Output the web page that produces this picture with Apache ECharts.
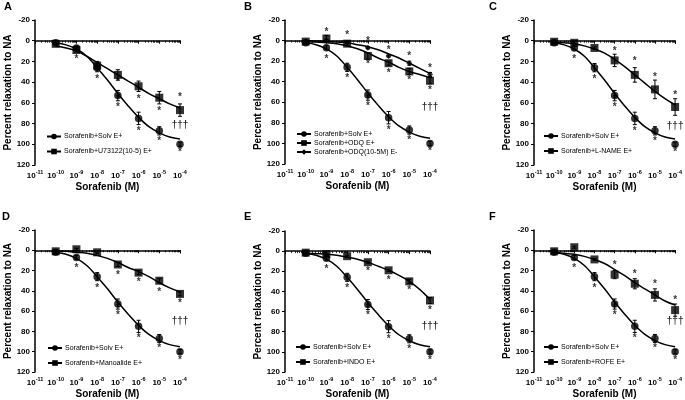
<!DOCTYPE html>
<html><head><meta charset="utf-8">
<script src="https://cdn.jsdelivr.net/npm/echarts@6/dist/echarts.min.js"></script>
<style>html,body{margin:0;padding:0;background:#fff}#c{width:685px;height:400px}</style>
</head><body><div id="c"></div><script>
// ---------- data ----------
const concentrations = [1e-10, 1e-9, 1e-8, 1e-7, 1e-6, 1e-5, 1e-4];
const fitX = [1e-10, 3.16e-10, 1e-9, 3.16e-9, 1e-8, 3.16e-8, 1e-7, 3.16e-7, 1e-6, 3.16e-6, 1e-5, 3.16e-5, 1e-4];
const panelLetters = ['A', 'B', 'C', 'D', 'E', 'F'];
const yTitle = 'Percent relaxation to NA';
const xTitle = 'Sorafenib (M)';

const solvName = 'Sorafenib+Solv E+';
const solvMean = [2, 7, 26, 53, 75, 87, 100];
const solvSem = [1, 2, 4, 5, 6, 4, 2];
const solvFit = [2, 4, 8, 15, 26, 38, 51, 63, 74, 83, 89, 93, 95];
const solvStars = [[1e-9, 16], [1e-8, 35], [1e-7, 55], [1e-7, 62], [1e-6, 85], [1e-5, 95], [1e-4, 106]];

const u73Name = 'Sorafenib+U73122(10-5) E+';
const u73Mean = [3, 9, 24, 33, 44, 55, 67];
const u73Sem = [1, 2, 4, 5, 5, 6, 6];
const u73Fit = [5, 7, 10, 15, 21, 27, 33, 39, 45, 51, 56, 61, 65];
const starsA = [[1e-7, 38], [1e-6, 55], [1e-5, 66], [1e-4, 53]];
const daggerA = [[1e-4, 82]];

const odqName = 'Sorafenib+ODQ E+';
const odqMean = [1, -2, 3, 15, 22, 30, 39];
const odqSem = [1, 3, 2, 3, 2, 3, 3];
const odqFit = [1, 1.5, 2, 3, 5, 8, 12, 17, 21, 26, 30, 33, 36];
const odqEName = 'Sorafenib+ODQ(10-5M) E-';
const odqEMean = [1, 0, 2, 7, 15, 22, 33];
const odqESem = [1, 1, 1, 1, 1, 2, 2];
const odqEFit = [0, 0.5, 1, 1.5, 2, 4, 6, 9, 13, 17, 22, 27, 32];
const starsB = [[1e-9, -10], [1e-8, -7], [1e-7, -1.5], [1e-6, 7.5], [1e-5, 13], [1e-4, 25], [1e-7, 21.5], [1e-6, 30], [1e-5, 37], [1e-4, 46]];
const daggerB = [[1e-4, 65]];

const lnameName = 'Sorafenib+L-NAME E+';
const lnameMean = [1, 2, 7, 19, 33, 47, 64];
const lnameSem = [1, 1, 1, 6, 7, 9, 8];
const lnameFit = [1, 2, 3, 5, 8, 12, 18, 25, 33, 41, 49, 56, 62];
const starsC = [[1e-7, 8.5], [1e-6, 18], [1e-5, 33], [1e-4, 50.5]];
const daggerC = [[1e-4, 83]];

const manoName = 'Sorafenib+Manoalide E+';
const manoMean = [1, -1, 2, 14, 22, 30, 43];
const manoSem = [1, 1, 1, 2, 2, 2, 2];
const manoFit = [1, 1, 2, 3, 5, 8, 12, 17, 21, 26, 32, 37, 41];
const starsD = [[1e-7, 22.7], [1e-6, 30], [1e-5, 39], [1e-4, 50.5]];
const daggerD = [[1e-4, 69.6]];

const indoName = 'Sorafenib+INDO E+';
const indoMean = [1.5, 3, 5, 11, 19, 30, 49];
const indoSem = [1, 1, 1, 1, 1, 2, 3];
const indoFit = [2, 2.5, 3, 4, 6, 8, 11, 15, 19, 24, 30, 38, 48];
const starsE = [[1e-7, 18.3], [1e-6, 27], [1e-5, 37], [1e-4, 56.7]];
const daggerE = [[1e-4, 74.5]];

const rofeName = 'Sorafenib+ROFE E+';
const rofeMean = [1, -3, 9, 24, 33, 44, 59];
const rofeSem = [1, 1, 1, 4, 5, 6, 6];
const rofeFit = [2, 3, 4, 6, 9, 13, 19, 25, 32, 38, 44, 50, 54];
const starsF = [[1e-7, 13], [1e-6, 21.4], [1e-5, 31.7], [1e-4, 47]];
const daggerF = [[1e-4, 69.6]];

// ---------- layout / style ----------
const FONT = '"Liberation Sans", Arial, sans-serif';
const solvGroup = {name: solvName, mean: solvMean, sem: solvSem, fit: solvFit, symbol: 'circle', size: 7.5};
const panels = [
  {grid: {left: 35, top: 20, width: 145, height: 145}, title: {left: 4, top: 1},
   groups: [solvGroup, {name: u73Name, mean: u73Mean, sem: u73Sem, fit: u73Fit, symbol: 'rect', size: 8}],
   stars: solvStars.concat(starsA), daggers: daggerA, legend: {left: 46, top: 133, gap: 8}},
  {grid: {left: 285, top: 20, width: 145, height: 144}, title: {left: 244, top: 1},
   groups: [solvGroup, {name: odqName, mean: odqMean, sem: odqSem, fit: odqFit, symbol: 'rect', size: 8},
            {name: odqEName, mean: odqEMean, sem: odqESem, fit: odqEFit, symbol: 'diamond', size: 6}],
   stars: solvStars.concat(starsB), daggers: daggerB, legend: {left: 296, top: 130.5, gap: 2}},
  {grid: {left: 534, top: 20, width: 144, height: 145}, title: {left: 489, top: 1},
   groups: [solvGroup, {name: lnameName, mean: lnameMean, sem: lnameSem, fit: lnameFit, symbol: 'rect', size: 8}],
   stars: solvStars.concat(starsC), daggers: daggerC, legend: {left: 543, top: 132.5, gap: 8}},
  {grid: {left: 35, top: 230, width: 145, height: 144}, title: {left: 2, top: 211},
   groups: [solvGroup, {name: manoName, mean: manoMean, sem: manoSem, fit: manoFit, symbol: 'rect', size: 8}],
   stars: solvStars.concat(starsD), daggers: daggerD, legend: {left: 47, top: 344.5, gap: 8}},
  {grid: {left: 285, top: 231, width: 145, height: 143}, title: {left: 244, top: 211},
   groups: [solvGroup, {name: indoName, mean: indoMean, sem: indoSem, fit: indoFit, symbol: 'rect', size: 8}],
   stars: solvStars.concat(starsE), daggers: daggerE, legend: {left: 295, top: 343.5, gap: 8}},
  {grid: {left: 534, top: 230, width: 144, height: 144}, title: {left: 489, top: 211},
   groups: [solvGroup, {name: rofeName, mean: rofeMean, sem: rofeSem, fit: rofeFit, symbol: 'rect', size: 8}],
   stars: solvStars.concat(starsF), daggers: daggerF, legend: {left: 543, top: 343.5, gap: 8}}
];

const grids = [], xAxes = [], yAxes = [], series = [], titles = [], legends = [];

function errRender(params, api) {
  const x = api.value(0), y = api.value(1), e = api.value(2);
  const p1 = api.coord([x, y - e]), p2 = api.coord([x, y + e]);
  const w = 2;
  const st = {stroke: '#000', lineWidth: 1};
  return {type: 'group', children: [
    {type: 'line', shape: {x1: p1[0], y1: p1[1], x2: p2[0], y2: p2[1]}, style: st},
    {type: 'line', shape: {x1: p1[0] - w, y1: p1[1], x2: p1[0] + w, y2: p1[1]}, style: st},
    {type: 'line', shape: {x1: p2[0] - w, y1: p2[1], x2: p2[0] + w, y2: p2[1]}, style: st}
  ]};
}

panels.forEach((p, i) => {
  grids.push(Object.assign({containLabel: false}, p.grid));
  titles.push({text: panelLetters[i], left: p.title.left, top: p.title.top, padding: 0,
    textStyle: {fontSize: 11, fontWeight: 'bold', color: '#000', fontFamily: FONT}});
  xAxes.push({
    type: 'log', logBase: 10, gridIndex: i, min: 1e-11, max: 1e-4, splitNumber: 7,
    name: xTitle, nameLocation: 'middle', nameGap: 17,
    nameTextStyle: {fontSize: 10, fontWeight: 'bold', color: '#000', fontFamily: FONT},
    axisLine: {lineStyle: {color: '#000', width: 1.5}},
    axisTick: {show: true, length: 3, lineStyle: {color: '#000', width: 1}},
    minorTick: {show: true, splitNumber: 9, length: 2, lineStyle: {color: '#000', width: 0.8}},
    splitLine: {show: false},
    axisLabel: {
      margin: 4, color: '#000',
      formatter: v => '{b|10}{s|' + Math.round(Math.log10(v)) + '}',
      rich: {
        b: {fontSize: 8, fontWeight: 'bold', fontFamily: FONT, color: '#000', lineHeight: 11, verticalAlign: 'bottom'},
        s: {fontSize: 5.5, fontWeight: 'bold', fontFamily: FONT, color: '#000', lineHeight: 11, verticalAlign: 'top'}
      }
    }
  });
  yAxes.push({
    type: 'value', gridIndex: i, min: -20, max: 120, interval: 20, inverse: true,
    name: yTitle, nameLocation: 'middle', nameGap: 22,
    nameTextStyle: {fontSize: 10, fontWeight: 'bold', color: '#000', fontFamily: FONT},
    axisLine: {show: true, lineStyle: {color: '#000', width: 1.5}},
    axisTick: {show: true, length: 3, lineStyle: {color: '#000', width: 1}},
    splitLine: {show: false},
    axisLabel: {margin: 5, fontSize: 8, fontWeight: 'bold', color: '#000', fontFamily: FONT}
  });
  p.groups.forEach(g => {
    series.push({
      name: g.name, type: 'line', xAxisIndex: i, yAxisIndex: i, smooth: 0.35,
      data: fitX.map((x, k) => [x, g.fit[k]]),
      symbol: g.symbol, symbolSize: g.size, showSymbol: false,
      lineStyle: {color: '#000', width: 1.5}, itemStyle: {color: '#000'},
      silent: true, z: 2
    });
    series.push({
      name: g.name + ' SEM', type: 'custom', xAxisIndex: i, yAxisIndex: i,
      data: concentrations.map((x, k) => [x, g.mean[k], g.sem[k]]),
      encode: {x: 0, y: 1}, renderItem: errRender, silent: true, z: 3
    });
    series.push({
      name: g.name + ' mean', type: 'scatter', xAxisIndex: i, yAxisIndex: i,
      data: concentrations.map((x, k) => [x, g.mean[k]]),
      symbol: g.symbol, symbolSize: g.size, itemStyle: {color: '#000'}, silent: true, z: 4
    });
  });
  series.push({
    name: 'stars ' + panelLetters[i], type: 'scatter', xAxisIndex: i, yAxisIndex: i,
    data: p.stars, symbol: 'circle', symbolSize: 1, itemStyle: {color: 'rgba(0,0,0,0)'},
    label: {show: true, position: 'inside', formatter: '*', fontSize: 10, fontWeight: 'bold', color: '#000', fontFamily: FONT, offset: [0, 2]},
    silent: true, z: 5
  });
  series.push({
    name: 'daggers ' + panelLetters[i], type: 'scatter', xAxisIndex: i, yAxisIndex: i,
    data: p.daggers, symbol: 'circle', symbolSize: 1, itemStyle: {color: 'rgba(0,0,0,0)'},
    label: {show: true, position: 'inside', formatter: '\u2020\u2020\u2020', fontSize: 10, fontWeight: 'bold', color: '#000', fontFamily: FONT},
    silent: true, z: 5
  });
  legends.push({
    data: p.groups.map(g => g.name), orient: 'vertical', left: p.legend.left, top: p.legend.top,
    itemWidth: 14, itemHeight: 7, itemGap: p.legend.gap, padding: 0, selectedMode: false,
    textStyle: {fontSize: 7, color: '#000', fontFamily: FONT, padding: [0, 0, 0, -2]}
  });
});

const chart = echarts.init(document.getElementById('c'), null, {renderer: 'canvas'});
chart.setOption({
  backgroundColor: '#fff', animation: false,
  title: titles, grid: grids, xAxis: xAxes, yAxis: yAxes, legend: legends, series: series
});
</script></body></html>
